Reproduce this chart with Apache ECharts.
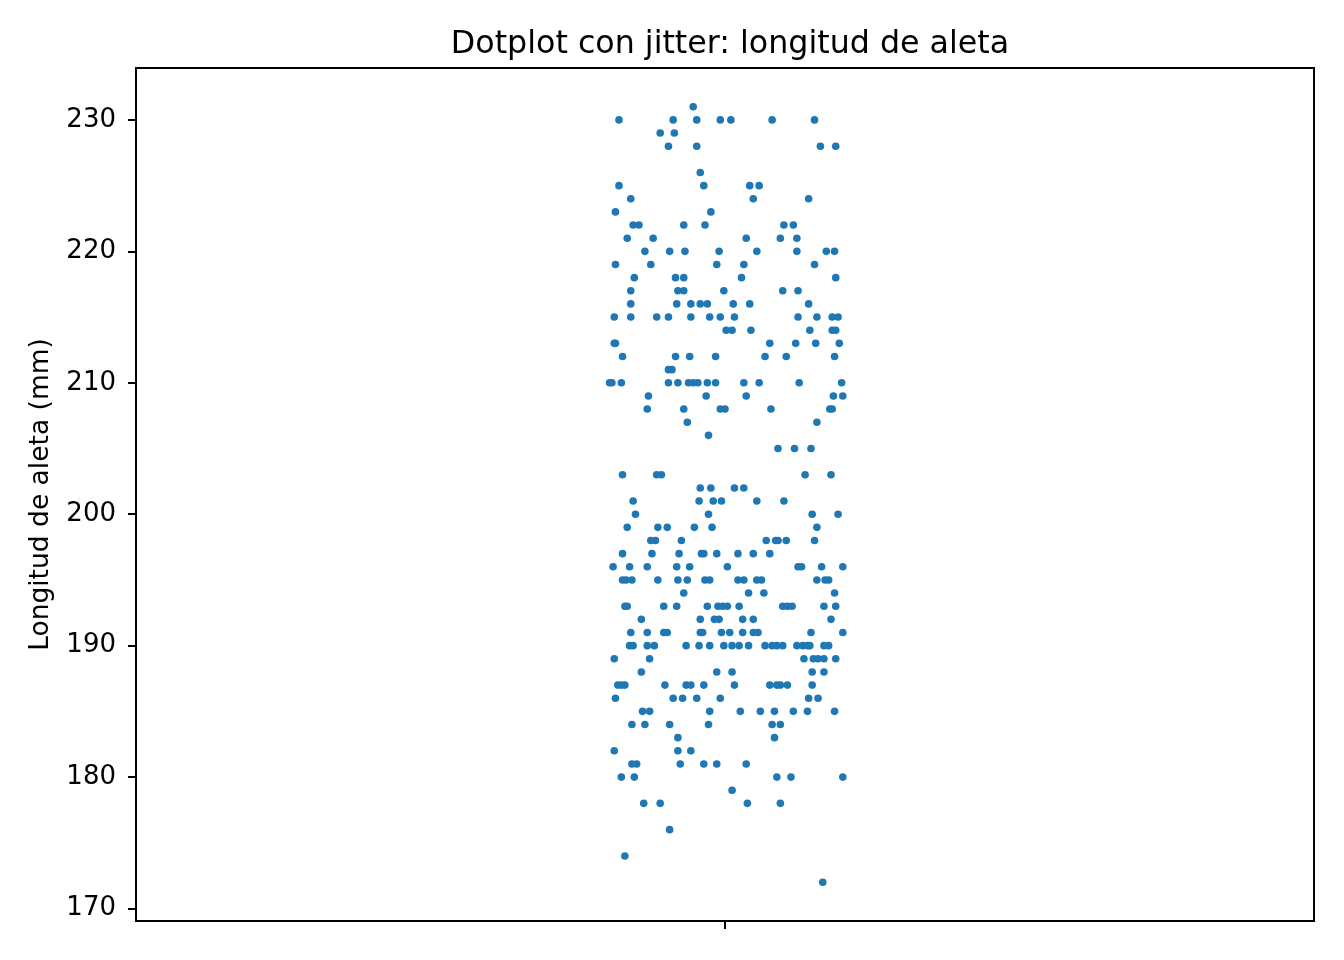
<!DOCTYPE html>
<html>
<head>
<meta charset="utf-8">
<script src="https://cdn.jsdelivr.net/npm/echarts@6/dist/echarts.min.js"></script>
<style>html,body{margin:0;padding:0;background:#fff}#c{width:1344px;height:960px}</style>
</head>
<body>
<div id="c"></div>
<script>
// Flipper lengths (mm), one entry per row of dots
const flipperLengths = [231,230,229,228,226,225,224,223,222,221,220,219,218,217,216,215,214,213,212,211,210,209,208,207,206,205,203,202,201,200,199,198,197,196,195,194,193,192,191,190,189,188,187,186,185,184,183,182,181,180,179,178,176,174,172];
// Horizontal jitter offsets of each dot in that row
const jitterOffsets = [
  [-0.027],
  [-0.090,-0.044,-0.024,-0.004,0.005,0.040,0.076],
  [-0.055,-0.043],
  [-0.048,-0.024,0.081,0.094],
  [-0.021],
  [-0.090,-0.018,0.021,0.029],
  [-0.080,0.024,0.071],
  [-0.093,-0.012],
  [-0.078,-0.073,-0.035,-0.017,0.050,0.058],
  [-0.083,-0.061,0.018,0.047,0.061],
  [-0.068,-0.047,-0.034,-0.005,0.027,0.061,0.086,0.093],
  [-0.093,-0.063,-0.007,0.016,0.076],
  [-0.077,-0.042,-0.035,0.014,0.094],
  [-0.080,-0.040,-0.035,-0.001,0.049,0.062],
  [-0.080,-0.041,-0.029,-0.021,-0.015,0.007,0.021,0.071],
  [-0.094,-0.080,-0.058,-0.048,-0.029,-0.013,-0.004,0.008,0.062,0.078,0.091,0.096],
  [0.001,0.006,0.022,0.072,0.091,0.094],
  [-0.094,-0.093,0.038,0.060,0.077,0.097],
  [-0.087,-0.042,-0.030,-0.008,0.034,0.052,0.093],
  [-0.048,-0.045],
  [-0.098,-0.096,-0.088,-0.048,-0.040,-0.031,-0.027,-0.023,-0.015,-0.008,0.016,0.029,0.063,0.099],
  [-0.065,-0.016,0.018,0.092,0.100],
  [-0.066,-0.035,-0.004,0.000,0.039,0.089,0.091],
  [-0.032,0.078],
  [-0.014],
  [0.045,0.059,0.073],
  [-0.087,-0.058,-0.054,0.068,0.090],
  [-0.021,-0.012,0.008,0.016],
  [-0.078,-0.022,-0.010,-0.003,0.027,0.050],
  [-0.076,-0.014,0.074,0.096],
  [-0.083,-0.057,-0.049,-0.026,-0.011,0.078],
  [-0.063,-0.059,-0.037,0.035,0.043,0.045,0.052,0.076],
  [-0.087,-0.062,-0.039,-0.020,-0.018,-0.007,0.011,0.024,0.038],
  [-0.095,-0.081,-0.066,-0.041,-0.030,0.002,0.062,0.065,0.082,0.100],
  [-0.087,-0.084,-0.079,-0.057,-0.040,-0.032,-0.017,-0.013,0.011,0.016,0.027,0.031,0.078,0.085,0.088],
  [-0.035,0.020,0.033,0.093],
  [-0.085,-0.083,-0.052,-0.041,-0.015,-0.006,-0.002,0.002,0.012,0.049,0.053,0.057,0.084,0.094],
  [-0.071,-0.021,-0.009,-0.005,0.015,0.024,0.090],
  [-0.080,-0.066,-0.052,-0.049,-0.021,-0.019,-0.003,0.004,0.015,0.024,0.028,0.073,0.100],
  [-0.081,-0.078,-0.066,-0.060,-0.033,-0.022,-0.013,-0.001,0.006,0.012,0.020,0.034,0.040,0.044,0.049,0.061,0.066,0.070,0.072,0.084,0.088],
  [-0.094,-0.064,0.067,0.075,0.079,0.084,0.094],
  [-0.071,-0.007,0.006,0.074,0.084],
  [-0.091,-0.088,-0.085,-0.051,-0.033,-0.029,-0.018,0.008,0.038,0.044,0.047,0.053,0.074],
  [-0.093,-0.044,-0.036,-0.024,-0.004,0.071,0.079],
  [-0.070,-0.064,-0.013,0.013,0.030,0.042,0.058,0.070,0.093],
  [-0.079,-0.068,-0.047,-0.014,0.040,0.047],
  [-0.040,0.042],
  [-0.094,-0.040,-0.029],
  [-0.079,-0.075,-0.038,-0.018,-0.007,0.018],
  [-0.088,-0.077,0.044,0.056,0.100],
  [0.006],
  [-0.069,-0.055,0.019,0.047],
  [-0.047],
  [-0.085],
  [0.083]
];
const yTicks = [170,180,190,200,210,220,230];

const points = [];
flipperLengths.forEach((v, i) => {
  jitterOffsets[i].forEach(j => points.push([j, v]));
});

const chart = echarts.init(document.getElementById('c'), null, {renderer: 'canvas'});
const font = 'DejaVu Sans';
chart.setOption({
  animation: false,
  backgroundColor: '#fff',
  title: {
    text: 'Dotplot con jitter: longitud de aleta',
    left: 725, top: 24, textAlign: 'center',
    textStyle: {fontFamily: font, fontSize: 31.7, fontWeight: 'normal', color: '#000'}
  },
  grid: {left: 136, top: 68, right: 30, bottom: 39, show: true, borderColor: '#000', borderWidth: 2, backgroundColor: 'transparent'},
  xAxis: {
    type: 'value', min: -0.5, max: 0.5,
    axisLine: {show: false, onZero: false},
    splitLine: {show: false},
    axisTick: {show: true, customValues: [0], length: 8, lineStyle: {color: '#000', width: 2}},
    axisLabel: {show: false, customValues: [0]}
  },
  yAxis: {
    type: 'value', min: 169.05, max: 233.95, position: 'left',
    name: 'Longitud de aleta (mm)', nameLocation: 'middle', nameGap: 81,
    nameTextStyle: {fontFamily: font, fontSize: 26.5, color: '#000'},
    axisLine: {show: false, onZero: false},
    splitLine: {show: false},
    axisTick: {show: true, customValues: yTicks, length: 8, lineStyle: {color: '#000', width: 2}},
    axisLabel: {customValues: yTicks, margin: 20, fontFamily: font, fontSize: 26, color: '#000'}
  },
  series: [{
    type: 'scatter',
    data: points,
    symbol: 'circle',
    symbolSize: 7.6,
    itemStyle: {color: '#1f77b4', opacity: 1}
  }]
});
</script>
</body>
</html>
